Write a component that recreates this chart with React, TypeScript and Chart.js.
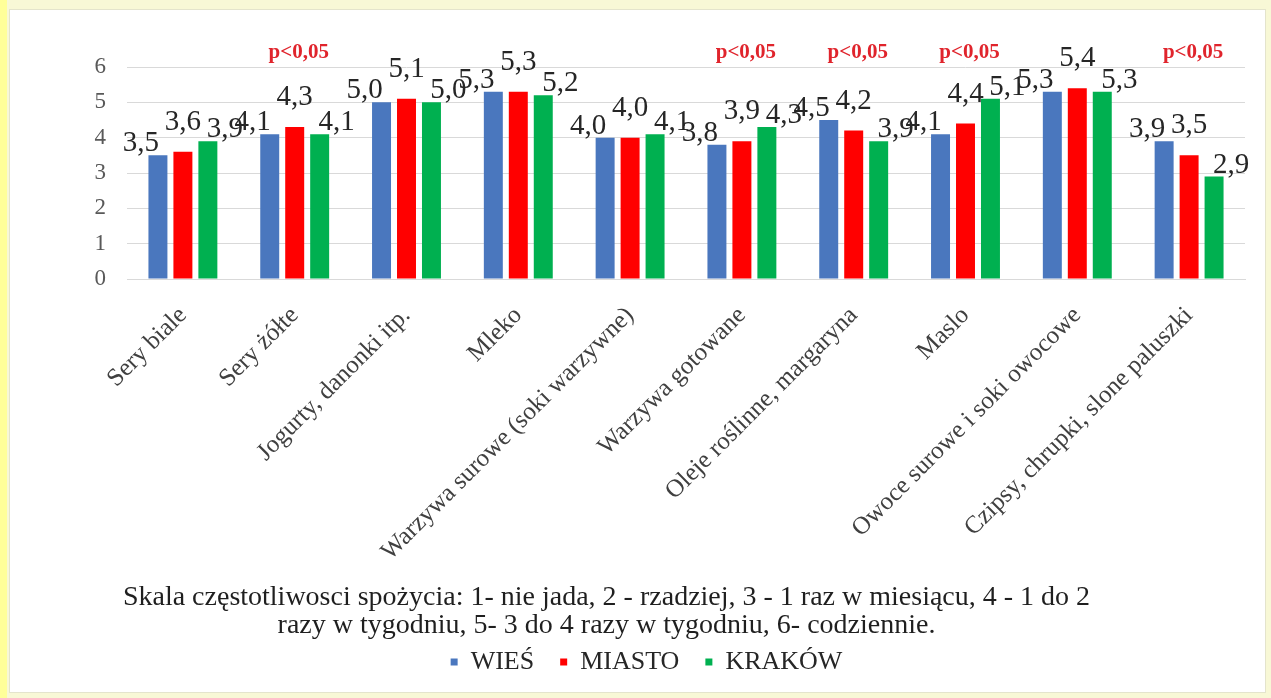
import React, { useEffect, useRef } from 'react';
import { Chart, registerables } from 'chart.js';

Chart.register(...registerables);

const categories = [
  'Sery biale',
  'Sery żółte',
  'Jogurty, danonki itp.',
  'Mleko',
  'Warzywa surowe (soki warzywne)',
  'Warzywa gotowane',
  'Oleje roślinne, margaryna',
  'Maslo',
  'Owoce surowe i soki owocowe',
  'Czipsy, chrupki, slone paluszki',
];

const seriesNames = ['WIEŚ', 'MIASTO', 'KRAKÓW'];

const wiesValues = [3.5, 4.1, 5.0, 5.3, 4.0, 3.8, 4.5, 4.1, 5.3, 3.9];
const miastoValues = [3.6, 4.3, 5.1, 5.3, 4.0, 3.9, 4.2, 4.4, 5.4, 3.5];
const krakowValues = [3.9, 4.1, 5.0, 5.2, 4.1, 4.3, 3.9, 5.1, 5.3, 2.9];

const significance = ['', 'p<0,05', '', '', '', 'p<0,05', 'p<0,05', 'p<0,05', '', 'p<0,05'];

const yTicks = [0, 1, 2, 3, 4, 5, 6];

const captionLines = [
  'Skala częstotliwosci spożycia: 1- nie jada, 2 - rzadziej, 3 - 1 raz w miesiącu, 4 - 1 do 2',
  'razy w tygodniu, 5- 3 do 4 razy w tygodniu, 6- codziennie.',
];

const colors = ['#4A77BE', '#FF0000', '#00B050'];

const SERIF = '"Liberation Serif", "Times New Roman", serif';
Chart.defaults.font.family = SERIF;

// label offsets per series (styling, not data)
const LABEL_DX = [-17, 0, 17];
const LABEL_DY = [4, 22, 4];

const labelPlugin = {
  id: 'valueLabels',
  afterLayout(chart: any) {
    // nudge caption and legend horizontally like the original
    const t = chart.titleBlock;
    if (t) {
      t.left -= 21;
      t.right -= 21;
    }
    const l = chart.legend;
    if (l) {
      l.left += 19;
      l.right += 19;
    }
  },
  afterDatasetsDraw(chart: any) {
    const ctx = chart.ctx;
    ctx.save();
    ctx.font = `29px ${SERIF}`;
    ctx.fillStyle = '#262626';
    ctx.textAlign = 'center';
    ctx.textBaseline = 'alphabetic';
    chart.data.datasets.forEach((ds: any, i: number) => {
      const meta = chart.getDatasetMeta(i);
      meta.data.forEach((bar: any, j: number) => {
        const v = ds.data[j] as number;
        ctx.fillText(v.toFixed(1).replace('.', ','), bar.x + LABEL_DX[i], bar.y - LABEL_DY[i]);
      });
    });
    const xs = chart.scales.x;
    const ys = chart.scales.y;
    ctx.font = `bold 21px ${SERIF}`;
    ctx.fillStyle = '#E0242C';
    ctx.textBaseline = 'middle';
    significance.forEach((s, j) => {
      if (s) ctx.fillText(s, xs.getPixelForValue(j) + 4, ys.getPixelForValue(6.4));
    });
    ctx.restore();
  },
};

export default function App() {
  const canvasRef = useRef<HTMLCanvasElement | null>(null);

  useEffect(() => {
    if (!canvasRef.current) return;
    const chart = new Chart(canvasRef.current, {
      type: 'bar',
      data: {
        labels: categories,
        datasets: [wiesValues, miastoValues, krakowValues].map((vals, i) => ({
          label: seriesNames[i],
          data: vals,
          backgroundColor: colors[i],
          borderWidth: 0,
          categoryPercentage: 0.67,
          barPercentage: 0.76,
        })),
      },
      options: {
        animation: false,
        responsive: true,
        maintainAspectRatio: false,
        layout: { padding: { top: 57, right: 20, left: 0, bottom: 7 } },
        plugins: {
          tooltip: { enabled: false },
          title: {
            display: true,
            position: 'bottom',
            weight: 1,
            text: captionLines,
            color: '#1F1F1F',
            font: { family: SERIF, size: 28, weight: 'normal', lineHeight: 1.0 },
            padding: { top: 0, bottom: -17 },
          },
          legend: {
            display: true,
            position: 'bottom',
            weight: 1000,
            labels: {
              boxWidth: 7,
              boxHeight: 7,
              padding: 26,
              color: '#262626',
              font: { family: SERIF, size: 26 },
            },
          },
        },
        scales: {
          x: {
            grid: { display: false },
            border: { display: true, color: '#D9D9D9', width: 1 },
            ticks: {
              color: '#404040',
              font: { family: SERIF, size: 25 },
              minRotation: 45,
              maxRotation: 45,
              padding: 14,
              autoSkip: false,
            },
            afterFit: (scale: any) => {
              scale.height = 305;
            },
          },
          y: {
            min: 0,
            max: 6,
            afterBuildTicks: (scale: any) => {
              scale.ticks = yTicks.map((v) => ({ value: v }));
            },
            grid: { color: '#D9D9D9', drawTicks: false },
            border: { display: false },
            ticks: {
              color: '#595959',
              font: { family: SERIF, size: 23 },
              padding: 21,
            },
            afterFit: (scale: any) => {
              scale.width = 117;
            },
          },
        },
      },
      plugins: [labelPlugin],
    });
    return () => chart.destroy();
  }, []);

  return (
    <div
      style={{
        position: 'absolute',
        left: 0,
        top: 0,
        width: 1271,
        height: 698,
        background: '#F8F8D6',
        overflow: 'hidden',
      }}
    >
      <div style={{ position: 'absolute', left: 0, top: 0, width: 7, height: 698, background: '#FFFF99' }} />
      <div
        style={{
          position: 'absolute',
          left: 10,
          top: 10,
          width: 1255,
          height: 682,
          background: '#FFFFFF',
          boxShadow: '0 0 0 1px #E4E4CC',
        }}
      >
        <canvas ref={canvasRef} />
      </div>
    </div>
  );
}
